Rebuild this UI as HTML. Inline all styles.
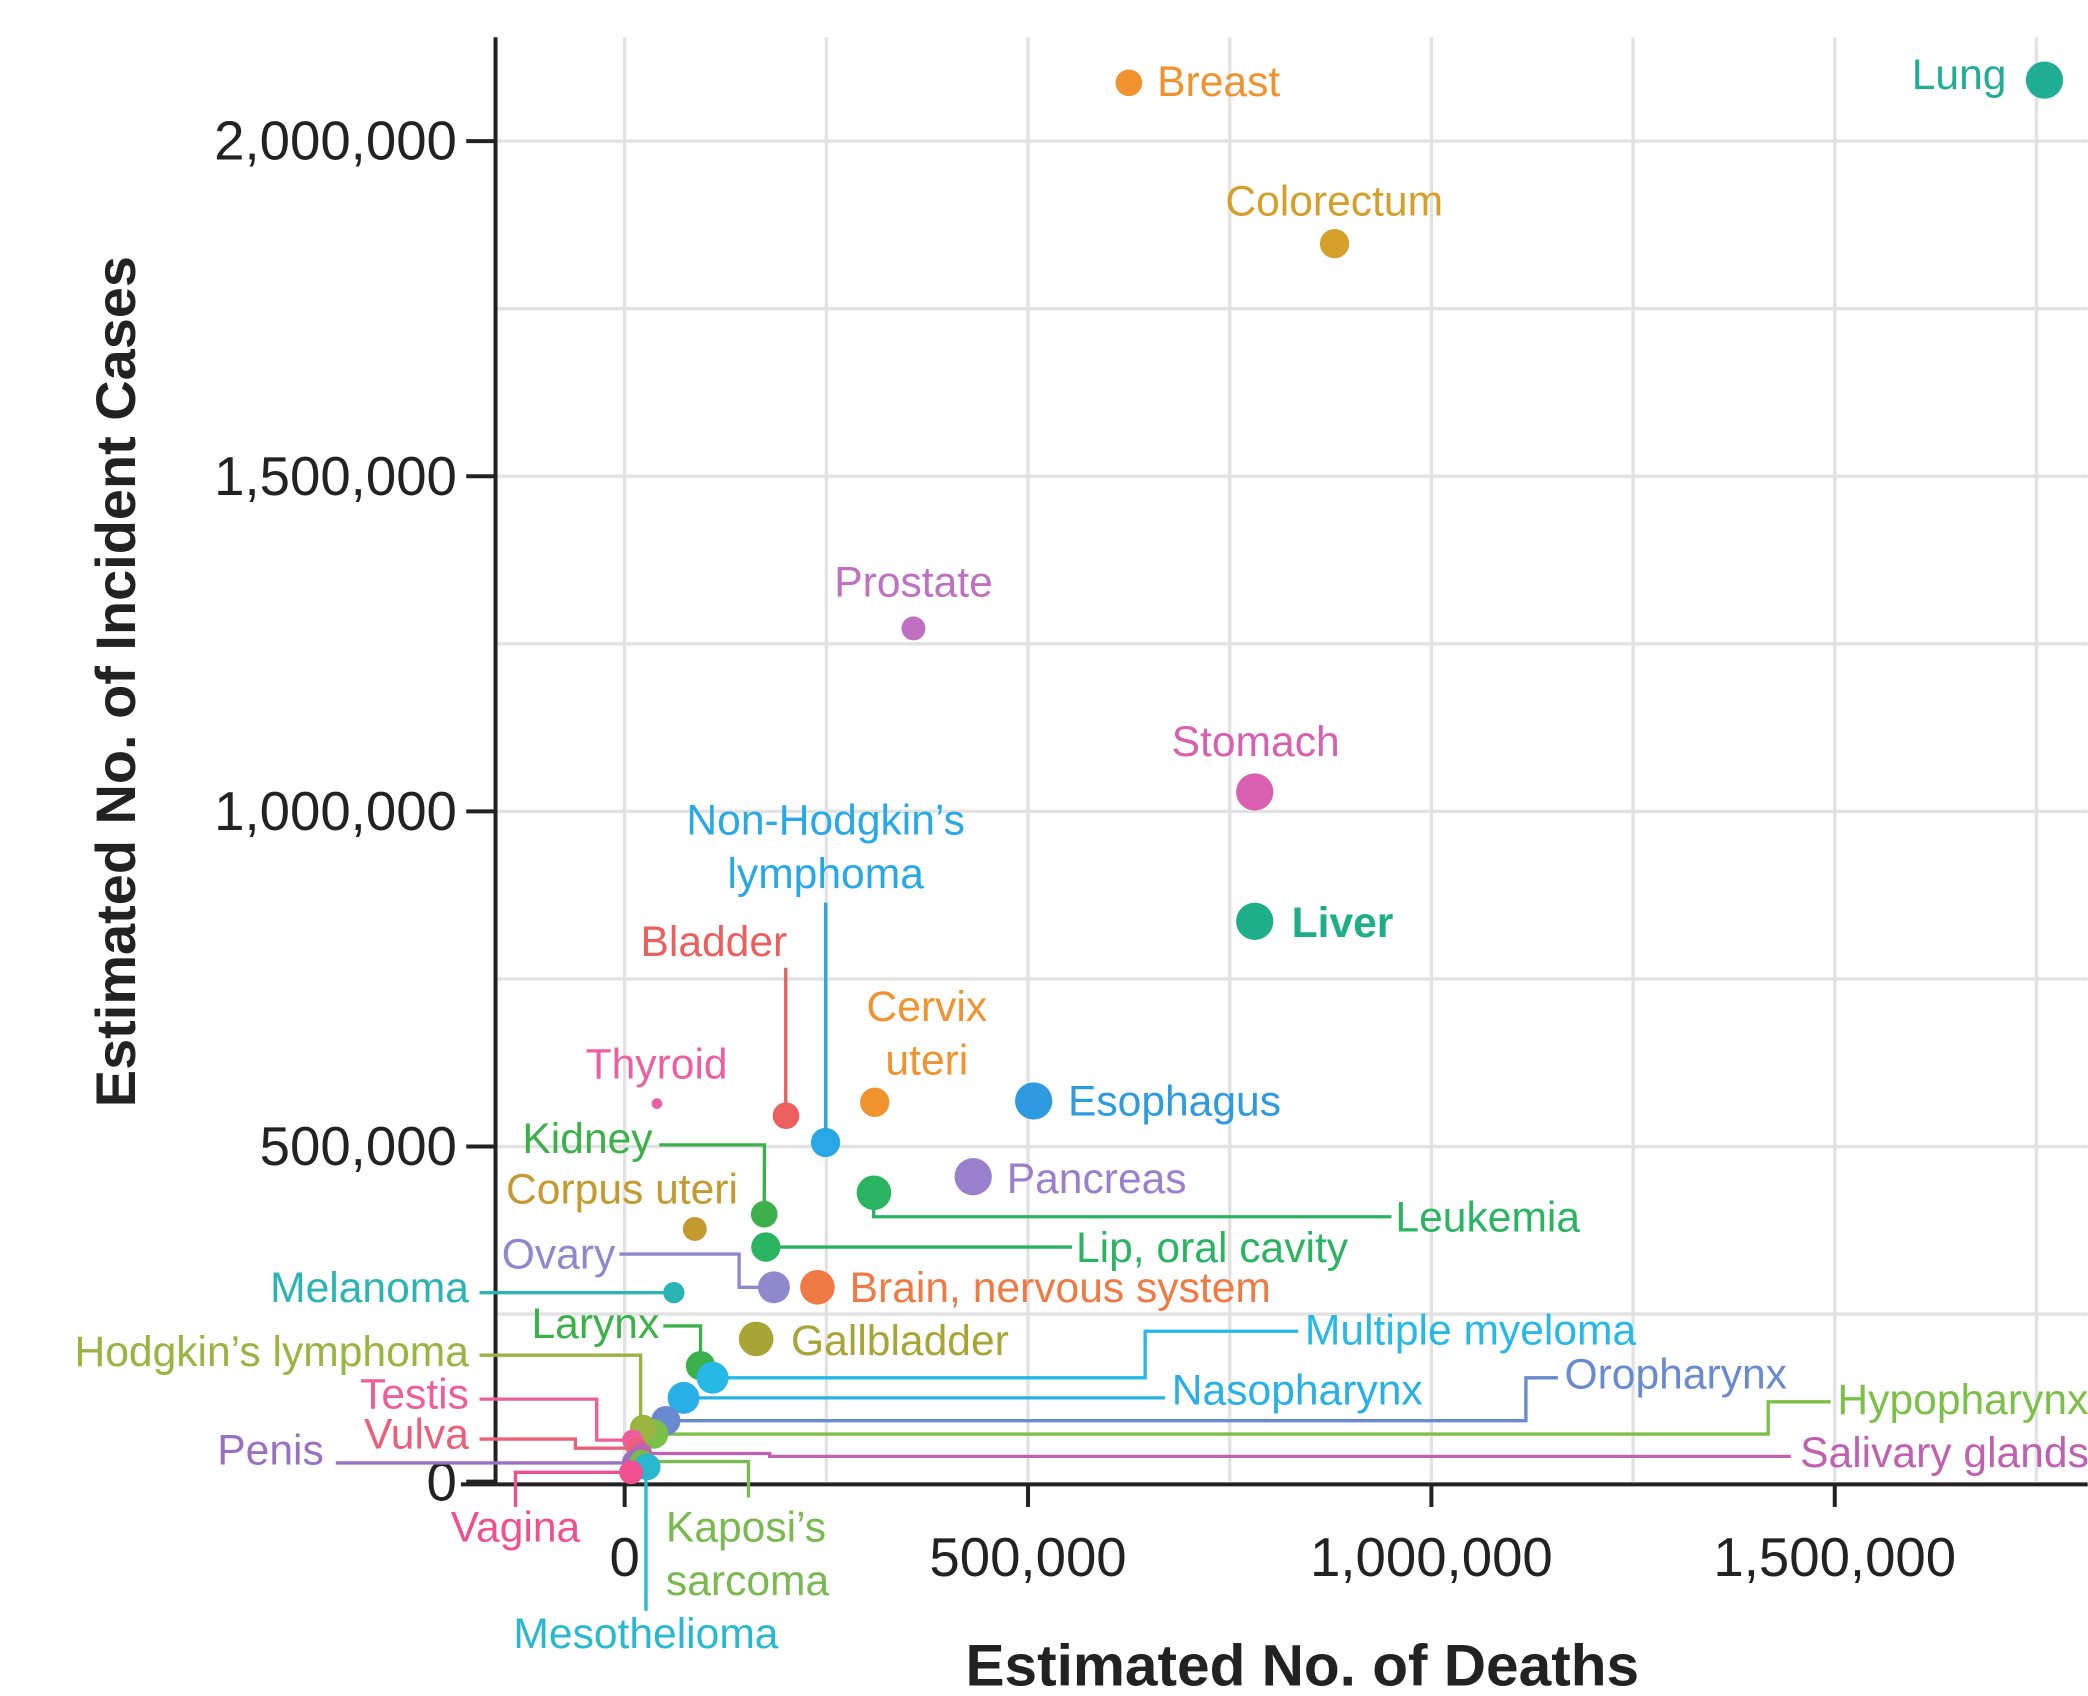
<!DOCTYPE html>
<html><head><meta charset="utf-8"><style>
html,body{margin:0;padding:0;background:#fff}
svg{display:block}
text{font-family:"Liberation Sans",sans-serif}
</style></head><body>
<svg id="chart" width="2088" height="1696" viewBox="0 0 1568 1274" xmlns="http://www.w3.org/2000/svg">
<g id="grid"></g>
<g id="axes"></g>
<g id="leaders"></g>
<g id="points"></g>
<g id="labels"></g>
<text transform="translate(101,512) rotate(-90)" text-anchor="middle" font-size="42" font-weight="bold" fill="#222">Estimated No. of Incident Cases</text>
<text x="978" y="1266" text-anchor="middle" font-size="44" font-weight="bold" fill="#222">Estimated No. of Deaths</text>
</svg>
<script>
const NS="http://www.w3.org/2000/svg";
const names=["Lung","Breast","Colorectum","Prostate","Stomach","Liver","Esophagus","Cervix uteri","Bladder","Non-Hodgkin's lymphoma","Thyroid","Pancreas","Leukemia","Kidney","Corpus uteri","Lip, oral cavity","Ovary","Brain, nervous system","Melanoma","Gallbladder","Larynx","Multiple myeloma","Nasopharynx","Oropharynx","Hypopharynx","Hodgkin's lymphoma","Testis","Vulva","Salivary glands","Penis","Kaposi's sarcoma","Mesothelioma","Vagina"];
const deaths=[1760000,625000,880000,358000,781000,781000,507000,310000,200000,249000,40000,432000,309000,173000,87000,175000,185000,239000,61000,163000,94000,109000,73000,51000,36000,23000,10000,15000,21000,13000,21000,28000,8000];
const cases=[2091000,2087000,1847000,1273000,1029000,836000,568000,566000,546000,506000,564000,455000,431000,399000,377000,350000,290000,290000,282000,213000,173000,155000,125000,91000,71000,80000,62000,50000,42000,28000,30000,22000,14000];
const radii=[14,10,11,9,14,14,14,11,10,11,4,14,13,10,9,11,12,13,8,13,11,12,12,11,11,10,8,8,8,10,9,10,9];
const colors=["#1fae94","#f0922e","#d4a02a","#c070c0","#d95fb0","#1fae8a","#2e9ae0","#f0922e","#ec5f5f","#28a8e6","#ec5fa0","#9a7fcc","#2ab462","#3cb04a","#c49a30","#2ab462","#8e88cc","#f07a44","#2ab4b4","#a8a436","#3cb04a","#28b8e6","#28b0e6","#6a8ad0","#7cc04a","#9ab440","#ec5f9a","#ec5f7a","#c060b0","#9a70c0","#7ab850","#28b8d0","#f05090"];
const xTicks=[0,500000,1000000,1500000];
const xTickLabels=["0","500,000","1,000,000","1,500,000"];
const yTicks=[0,500000,1000000,1500000,2000000];
const yTickLabels=["0","500,000","1,000,000","1,500,000","2,000,000"];
function X(v){return 469+v*303/500000;}
function Y(v){return 1113-v*251.75/500000;}
function el(t,a,p){const e=document.createElementNS(NS,t);for(const k in a)e.setAttribute(k,a[k]);p.appendChild(e);return e;}
const grid=document.getElementById('grid'),axes=document.getElementById('axes');
for(let v=0;v<=1750000;v+=250000){const l=el('line',{x1:X(v),x2:X(v),y1:28,y2:1113,stroke:'#e2e2e2','stroke-width':2.5},grid);

}
for(let v=250000;v<=2000000;v+=250000){const l=el('line',{x1:372,x2:1568,y1:Y(v),y2:Y(v),stroke:'#e2e2e2','stroke-width':2.5},grid);

}
el('line',{x1:372,x2:372,y1:28,y2:1116,stroke:'#222','stroke-width':3},axes);
el('line',{x1:346,x2:1568,y1:1115,y2:1115,stroke:'#222','stroke-width':3},axes);
yTicks.forEach((v,i)=>{el('line',{x1:350,x2:372,y1:Y(v),y2:Y(v),stroke:'#222','stroke-width':3},axes);
const t=el('text',{x:343,y:Y(v)+14,'text-anchor':'end','font-size':41,fill:'#222'},axes);t.textContent=yTickLabels[i];

});
xTicks.forEach((v,i)=>{el('line',{x1:X(v),x2:X(v),y1:1115,y2:1132,stroke:'#222','stroke-width':3},axes);
const t=el('text',{x:X(v),y:1184,'text-anchor':'middle','font-size':41,fill:'#222'},axes);t.textContent=xTickLabels[i];

});
const labelLayout=[
[0,["Lung"],1507,67,"end",null],
[1,["Breast"],869,72,"start",null],
[2,["Colorectum"],1002,162,"middle",null],
[3,["Prostate"],686,448,"middle",null],
[4,["Stomach"],943,568,"middle",null],
[5,["Liver"],970,704,"start",null,true],
[6,["Esophagus"],802,838,"start",null],
[7,["Cervix","uteri"],696,767,"middle",null],
[8,["Bladder"],536,718,"middle",[[590,727],[590,"p"]]],
[9,["Non-Hodgkin’s","lymphoma"],620,627,"middle",[[620,678],[620,"p"]]],
[10,["Thyroid"],493,810,"middle",null],
[11,["Pancreas"],756,896,"start",null],
[12,["Leukemia"],1048,925,"start",[[1045,914],[656,914]]],
[13,["Kidney"],490,866,"end",[[495,860],[574,860]]],
[14,["Corpus uteri"],467,904,"middle",null],
[15,["Lip, oral cavity"],808,948,"start",[[805,"p"]]],
[16,["Ovary"],462,953,"end",[[465,942],[555,942],[555,"p"]]],
[17,["Brain, nervous system"],638,978,"start",null],
[18,["Melanoma"],352,978,"end",[[360,"p"]]],
[19,["Gallbladder"],594,1018,"start",null],
[20,["Larynx"],495,1005,"end",[[498,996],[526,996]]],
[21,["Multiple myeloma"],980,1010,"start",[[975,1000],[860,1000],[860,"p"]]],
[22,["Nasopharynx"],880,1055,"start",[[875,"p"]]],
[23,["Oropharynx"],1175,1043,"start",[[1170,1035],[1146,1035],[1146,"p"]]],
[24,["Hypopharynx"],1380,1062,"start",[[1375,1053],[1328,1053],[1328,"p"]]],
[25,["Hodgkin’s lymphoma"],352,1026,"end",[[360,1018],[481,1018],[481,"p"]]],
[26,["Testis"],352,1058,"end",[[360,1051],[448,1051],[448,"p"]]],
[27,["Vulva"],352,1088,"end",[[360,1081],[432,1081],[432,"p"]]],
[28,["Salivary glands"],1352,1102,"start",[[1345,1094],[578,1094],[578,"p"]]],
[29,["Penis"],243,1100,"end",[[252,"p"]]],
[30,["Kaposi’s","sarcoma"],500,1158,"start",[[562,1125],[562,"p"]]],
[31,["Mesothelioma"],485,1238,"middle",[[485,1210],[485,"p"]]],
[32,["Vagina"],387,1158,"middle",[[387,1132],[387,"p"]]]
];
const leaders=document.getElementById('leaders'),pts=document.getElementById('points'),labs=document.getElementById('labels');
labelLayout.forEach(L=>{const i=L[0],c=colors[i],px=X(deaths[i]),py=Y(cases[i]);
if(L[5]){const route=L[5].map(p=>[p[0],p[1]==="p"?py:p[1]]);route.push([px,py]);
const pl=el('polyline',{points:route.map(p=>p.join(',')).join(' '),fill:'none',stroke:c,'stroke-width':2.5},leaders);

}
const t=el('text',{x:L[2],y:L[3],'text-anchor':L[4],'font-size':32,fill:c},labs);
if(L[6])t.setAttribute('font-weight','bold');
L[1].forEach((s,k)=>{const ts=el('tspan',{x:L[2],dy:k?40:0},t);ts.textContent=s;});

});
names.forEach((n,i)=>{const ci=el('circle',{cx:X(deaths[i]),cy:Y(cases[i]),r:radii[i],fill:colors[i]},pts);

});
</script>
</body></html>
